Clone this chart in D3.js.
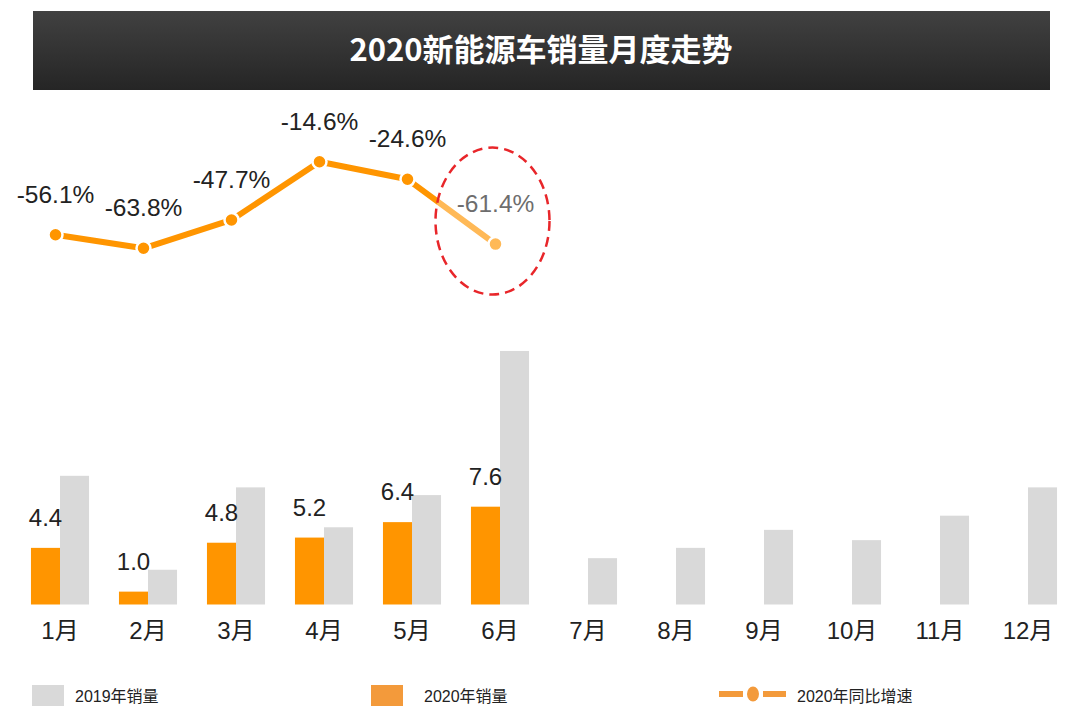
<!DOCTYPE html>
<html>
<head>
<meta charset="utf-8">
<script src="https://cdn.jsdelivr.net/npm/d3@7"></script>
<style>
  html, body { margin: 0; padding: 0; background: #fff; }
  svg { display: block; }
  text { font-family: "Liberation Sans", "Noto Sans CJK SC", sans-serif; }
</style>
</head>
<body>
<svg id="chart" width="1080" height="721"></svg>
<script>
// ---- data ----
const title = "2020新能源车销量月度走势";
const months = ["1月","2月","3月","4月","5月","6月","7月","8月","9月","10月","11月","12月"];
const sales2019 = [10.0, 2.7, 9.1, 6.0, 8.5, 19.7, 3.6, 4.4, 5.8, 5.0, 6.9, 9.1];
const sales2020 = [4.4, 1.0, 4.8, 5.2, 6.4, 7.6];
const growth2020 = [-56.1, -63.8, -47.7, -14.6, -24.6, -61.4];
const legendLabels = ["2019年销量", "2020年销量", "2020年同比增速"];
const highlightMonth = "6月";

// ---- styles ----
const C_ORANGE = "#FF9500";
const C_GRAY = "#D9D9D9";
const C_LEGEND_ORANGE = "#F39A3B";
const C_TEXT = "#222";

const svg = d3.select("#chart");

// title bar
const defs = svg.append("defs");
const grad = defs.append("linearGradient").attr("id", "tg").attr("x1", 0).attr("y1", 0).attr("x2", 0).attr("y2", 1);
grad.append("stop").attr("offset", "0%").attr("stop-color", "#414141");
grad.append("stop").attr("offset", "100%").attr("stop-color", "#252525");
svg.append("rect").attr("x", 33).attr("y", 11).attr("width", 1017).attr("height", 79).attr("fill", "url(#tg)");
svg.append("text").attr("x", 541).attr("y", 61).attr("text-anchor", "middle")
  .attr("fill", "#fff").attr("font-size", 31).attr("font-weight", "bold")
  .style("font-family", "'Noto Sans CJK SC', sans-serif")
  .text(title);

// scales
const x = d3.scaleBand().domain(months).range([16, 1072]).paddingInner(0.34).paddingOuter(0.17);
const xSub = d3.scaleBand().domain(["2020", "2019"]).range([0, x.bandwidth()]);
const y = d3.scaleLinear().domain([0, 20]).range([604.5, 347.1]);
const xLine = d3.scalePoint().domain(months).range([55.5, 55.5 + 88 * 11]);
const yLine = d3.scaleLinear().domain([-70, 0]).range([259.2, 136]);

// bars 2019
svg.append("g").selectAll("rect").data(months.map((m, i) => ({ m, v: sales2019[i] })))
  .join("rect")
  .attr("x", d => x(d.m) + xSub("2019"))
  .attr("width", xSub.bandwidth())
  .attr("y", d => y(d.v))
  .attr("height", d => y(0) - y(d.v))
  .attr("fill", C_GRAY);

// bars 2020
const d2020 = sales2020.map((v, i) => ({ m: months[i], v }));
svg.append("g").selectAll("rect").data(d2020)
  .join("rect")
  .attr("x", d => x(d.m) + xSub("2020"))
  .attr("width", xSub.bandwidth())
  .attr("y", d => y(d.v))
  .attr("height", d => y(0) - y(d.v))
  .attr("fill", C_ORANGE);

svg.append("g").selectAll("text").data(d2020)
  .join("text")
  .attr("x", d => x(d.m) + xSub("2020") + xSub.bandwidth() / 2)
  .attr("y", d => y(d.v) - 22)
  .attr("text-anchor", "middle")
  .attr("font-size", 24)
  .attr("fill", C_TEXT)
  .text(d => d3.format(".1f")(d.v));

// x axis
const axis = svg.append("g").attr("transform", `translate(0,${y(0)})`)
  .call(d3.axisBottom(x).tickSize(0).tickPadding(17));
axis.select(".domain").remove();
axis.selectAll("text").attr("font-size", 24).attr("fill", C_TEXT)
  .style("font-family", "'Liberation Sans', 'Noto Sans CJK SC', sans-serif");

// growth line
const dLine = growth2020.map((v, i) => ({ m: months[i], v }));
const line = d3.line().x(d => xLine(d.m)).y(d => yLine(d.v));
svg.append("path").datum(dLine)
  .attr("d", line)
  .attr("fill", "none")
  .attr("stroke", C_ORANGE)
  .attr("stroke-width", 6)
  .attr("stroke-linejoin", "round");

svg.append("g").selectAll("circle").data(dLine)
  .join("circle")
  .attr("cx", d => xLine(d.m))
  .attr("cy", d => yLine(d.v))
  .attr("r", 7)
  .attr("fill", C_ORANGE)
  .attr("stroke", "#fff")
  .attr("stroke-width", 2.5);

svg.append("g").selectAll("text").data(dLine)
  .join("text")
  .attr("x", d => xLine(d.m))
  .attr("y", d => yLine(d.v) - 32)
  .attr("text-anchor", "middle")
  .attr("font-size", 24.5)
  .attr("fill", C_TEXT)
  .text(d => d3.format(".1f")(d.v).replace("−", "-") + "%");

// highlight ellipse (faded overlay + dashed outline)
const hp = dLine.find(d => d.m === highlightMonth);
svg.append("ellipse")
  .attr("cx", xLine(hp.m) - 3)
  .attr("cy", yLine(hp.v) - 23)
  .attr("rx", 57)
  .attr("ry", 73.5)
  .attr("fill", "#fff")
  .attr("fill-opacity", 0.34)
  .attr("stroke", "#E8262A")
  .attr("stroke-width", 2.5)
  .attr("stroke-dasharray", "10,6");

// legend
const lg = svg.append("g");
const ly = 695.5;
lg.append("rect").attr("x", 32).attr("y", ly - 10.5).attr("width", 32).attr("height", 21).attr("fill", C_GRAY);
lg.append("text").attr("x", 75).attr("y", ly + 6).attr("font-size", 16).attr("fill", C_TEXT).text(legendLabels[0]);
lg.append("rect").attr("x", 371).attr("y", ly - 10.5).attr("width", 32).attr("height", 21).attr("fill", C_LEGEND_ORANGE);
lg.append("text").attr("x", 424).attr("y", ly + 6).attr("font-size", 16).attr("fill", C_TEXT).text(legendLabels[1]);
lg.append("line").attr("x1", 719).attr("x2", 743).attr("y1", ly - 1.5).attr("y2", ly - 1.5)
  .attr("stroke", C_LEGEND_ORANGE).attr("stroke-width", 6);
lg.append("line").attr("x1", 763).attr("x2", 786).attr("y1", ly - 1.5).attr("y2", ly - 1.5)
  .attr("stroke", C_LEGEND_ORANGE).attr("stroke-width", 6);
lg.append("ellipse").attr("cx", 753).attr("cy", ly - 1.5).attr("rx", 6).attr("ry", 7.5).attr("fill", C_LEGEND_ORANGE);
lg.append("text").attr("x", 797).attr("y", ly + 6).attr("font-size", 16).attr("fill", C_TEXT).text(legendLabels[2]);
</script>
</body>
</html>
